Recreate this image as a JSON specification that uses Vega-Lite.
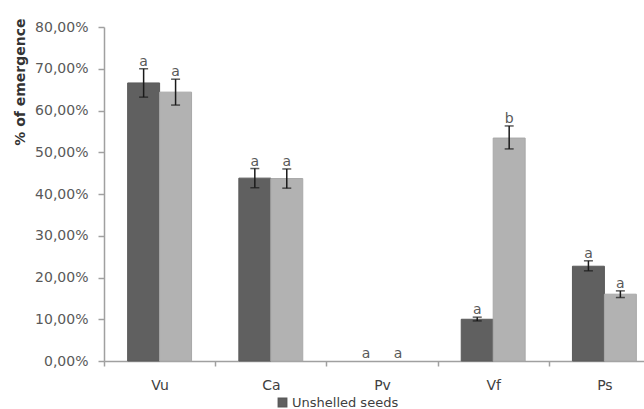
{
  "$schema": "https://vega.github.io/schema/vega-lite/v6.json",
  "width": 540,
  "height": 334,
  "autosize": {"type": "none"},
  "padding": {"left": 104, "top": 27, "right": 0, "bottom": 48},
  "background": "white",
  "config": {
    "locale": {"number": {"decimal": ",", "thousands": ".", "grouping": [3], "currency": ["", " €"]}},
    "view": {"stroke": null},
    "font": "DejaVu Sans"
  },
  "data": {
    "values": [
      {"species": "Vu", "treatment": "Unshelled seeds", "value": 0.666, "lo": 0.632, "hi": 0.700, "sig": "a"},
      {"species": "Vu", "treatment": "Shelled seeds", "value": 0.644, "lo": 0.613, "hi": 0.675, "sig": "a"},
      {"species": "Ca", "treatment": "Unshelled seeds", "value": 0.438, "lo": 0.415, "hi": 0.461, "sig": "a"},
      {"species": "Ca", "treatment": "Shelled seeds", "value": 0.437, "lo": 0.414, "hi": 0.460, "sig": "a"},
      {"species": "Pv", "treatment": "Unshelled seeds", "value": 0, "lo": 0, "hi": 0, "sig": "a"},
      {"species": "Pv", "treatment": "Shelled seeds", "value": 0, "lo": 0, "hi": 0, "sig": "a"},
      {"species": "Vf", "treatment": "Unshelled seeds", "value": 0.100, "lo": 0.096, "hi": 0.105, "sig": "a"},
      {"species": "Vf", "treatment": "Shelled seeds", "value": 0.534, "lo": 0.508, "hi": 0.563, "sig": "b"},
      {"species": "Ps", "treatment": "Unshelled seeds", "value": 0.227, "lo": 0.216, "hi": 0.240, "sig": "a"},
      {"species": "Ps", "treatment": "Shelled seeds", "value": 0.160, "lo": 0.152, "hi": 0.168, "sig": "a"}
    ]
  },
  "encoding": {
    "x": {
      "field": "species", "type": "nominal", "sort": ["Vu", "Ca", "Pv", "Vf", "Ps"],
      "scale": {"range": [0, 556], "paddingInner": 0, "paddingOuter": 0},
      "axis": {
        "title": null, "labelAngle": 0, "labelFontSize": 14, "labelColor": "#404040",
        "labelPadding": 12, "tickBand": "extent", "tickSize": 5, "tickColor": "#a0a0a0",
        "domainColor": "#a0a0a0", "domainWidth": 1.5, "tickWidth": 1.5
      }
    },
    "xOffset": {
      "field": "treatment", "type": "nominal", "sort": ["Unshelled seeds", "Shelled seeds"],
      "scale": {"paddingInner": 0, "paddingOuter": 0.74}
    }
  },
  "layer": [
    {
      "transform": [{"filter": "datum.value > 0"}],
      "mark": {"type": "bar", "strokeWidth": 1},
      "encoding": {
        "y": {
          "field": "value", "type": "quantitative",
          "scale": {"domain": [0, 0.8]},
          "axis": {
            "title": "% of emergence", "format": ".2%", "values": [0, 0.1, 0.2, 0.3, 0.4, 0.5, 0.6, 0.7, 0.8],
            "grid": false, "labelFontSize": 14, "labelColor": "#595959", "labelPadding": 10,
            "tickSize": 6, "tickColor": "#a0a0a0", "domainColor": "#a0a0a0", "domainWidth": 1.5, "tickWidth": 1.5,
            "titleFontSize": 14, "titleFontWeight": "bold", "titleColor": "#333333",
            "titleAngle": 270, "titleAlign": "right", "titleBaseline": "middle", "titleX": -84, "titleY": -9
          }
        },
        "color": {
          "field": "treatment", "type": "nominal",
          "scale": {"domain": ["Unshelled seeds", "Shelled seeds"], "range": ["#606060", "#b2b2b2"]},
          "legend": {
            "title": null, "values": ["Unshelled seeds"], "orient": "none", "legendX": 172, "legendY": 369,
            "symbolType": "square", "symbolSize": 70, "labelFontSize": 13, "labelColor": "#404040", "labelOffset": 3
          }
        },
        "stroke": {
          "field": "treatment", "type": "nominal",
          "scale": {"domain": ["Unshelled seeds", "Shelled seeds"], "range": ["#5a5a5a", "#a8a8a8"]},
          "legend": null
        }
      }
    },
    {
      "transform": [{"filter": "datum.hi > 0"}],
      "mark": {"type": "rule", "color": "#1a1a1a", "strokeWidth": 1.5},
      "encoding": {
        "y": {"field": "lo", "type": "quantitative"},
        "y2": {"field": "hi"}
      }
    },
    {
      "transform": [{"filter": "datum.hi > 0"}],
      "mark": {"type": "tick", "color": "#1a1a1a", "size": 9, "thickness": 1.5},
      "encoding": {"y": {"field": "lo", "type": "quantitative"}}
    },
    {
      "transform": [{"filter": "datum.hi > 0"}],
      "mark": {"type": "tick", "color": "#1a1a1a", "size": 9, "thickness": 1.5},
      "encoding": {"y": {"field": "hi", "type": "quantitative"}}
    },
    {
      "mark": {"type": "text", "fontSize": 14, "color": "#595959", "baseline": "alphabetic", "dy": -3},
      "encoding": {
        "y": {"field": "hi", "type": "quantitative"},
        "text": {"field": "sig"}
      }
    }
  ]
}
